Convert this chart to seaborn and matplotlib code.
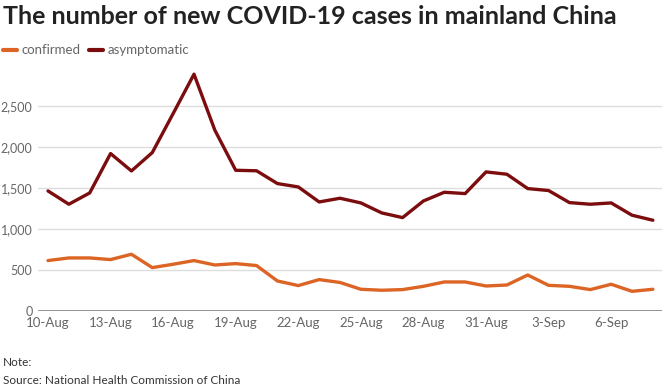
import pandas as pd
import seaborn as sns
import matplotlib.pyplot as plt
import matplotlib.dates as mdates
from matplotlib.ticker import FuncFormatter

dates = pd.date_range('2022-08-10', '2022-09-08', freq='D')
confirmed = [615, 647, 647, 627, 692, 529, 570, 615, 561, 578,
             554, 366, 310, 383, 348, 265, 253, 261, 301, 354,
             354, 305, 317, 439, 313, 301, 261, 326, 240, 265]
asymptomatic = [1464, 1302, 1440, 1920, 1708, 1932, 2408, 2888, 2205, 1716,
                1710, 1554, 1513, 1330, 1375, 1318, 1196, 1139, 1342, 1448,
                1432, 1696, 1668, 1493, 1469, 1322, 1302, 1318, 1168, 1107]
series = ['confirmed', 'asymptomatic']
colors = {'confirmed': '#dc6424', 'asymptomatic': '#7c0d0e'}

df = pd.DataFrame({'date': dates, 'confirmed': confirmed, 'asymptomatic': asymptomatic})
long = df.melt(id_vars='date', value_vars=series, var_name='kind', value_name='cases')

sns.set_style('white')
plt.rcParams['font.family'] = ['Lato', 'DejaVu Sans']

fig = plt.figure(figsize=(6.64, 3.91), dpi=100)
ax = fig.add_axes([38 / 664, 80 / 391, 624 / 664, 246 / 391])

sns.lineplot(data=long, x='date', y='cases', hue='kind', hue_order=series,
             palette=colors, linewidth=2.4, ax=ax, legend=False)

ax.set_ylim(0, 3000)
ax.set_yticks([0, 500, 1000, 1500, 2000, 2500])
ax.yaxis.set_major_formatter(FuncFormatter(lambda v, p: f'{int(v):,}'))
ax.grid(axis='y', color='#dddddd', linewidth=1)
ax.set_axisbelow(True)
ax.axhline(0, color='#8a8a8a', linewidth=2, zorder=1)

ax.set_xlim(dates[0] - pd.Timedelta(hours=11.5), dates[-1] + pd.Timedelta(hours=10.5))
ax.set_xticks(dates[::3])
ax.xaxis.set_major_formatter(mdates.DateFormatter('%-d-%b'))

for s in ['top', 'right', 'left', 'bottom']:
    ax.spines[s].set_visible(False)
ax.tick_params(axis='both', length=0, labelcolor='#666666')
ax.tick_params(axis='y', pad=4, labelsize=9)
ax.tick_params(axis='x', pad=4, labelsize=9.5)
ax.set_xlabel('')
ax.set_ylabel('')

fig.text(0.004, 0.988, 'The number of new COVID-19 cases in mainland China',
         fontsize=18, fontweight='bold', color='#222222', va='top', ha='left')

# legend row
x0 = 3 / 664
for name in series:
    fig.add_artist(plt.Line2D([x0, x0 + 14 / 664], [1 - 50 / 391] * 2,
                              color=colors[name], linewidth=3, transform=fig.transFigure))
    t = fig.text(x0 + 19 / 664, 1 - 50 / 391, name, fontsize=9.5, color='#666666',
                 va='center', ha='left')
    fig.canvas.draw()
    bb = t.get_window_extent()
    x0 = (bb.x1 + 8) / 664

fig.text(0.005, 1 - 363 / 391, 'Note:', fontsize=8.5, color='#333333', va='center')
fig.text(0.005, 1 - 380 / 391, 'Source: National Health Commission of China',
         fontsize=8.5, color='#333333', va='center')

fig.savefig('out.png', dpi=100)
